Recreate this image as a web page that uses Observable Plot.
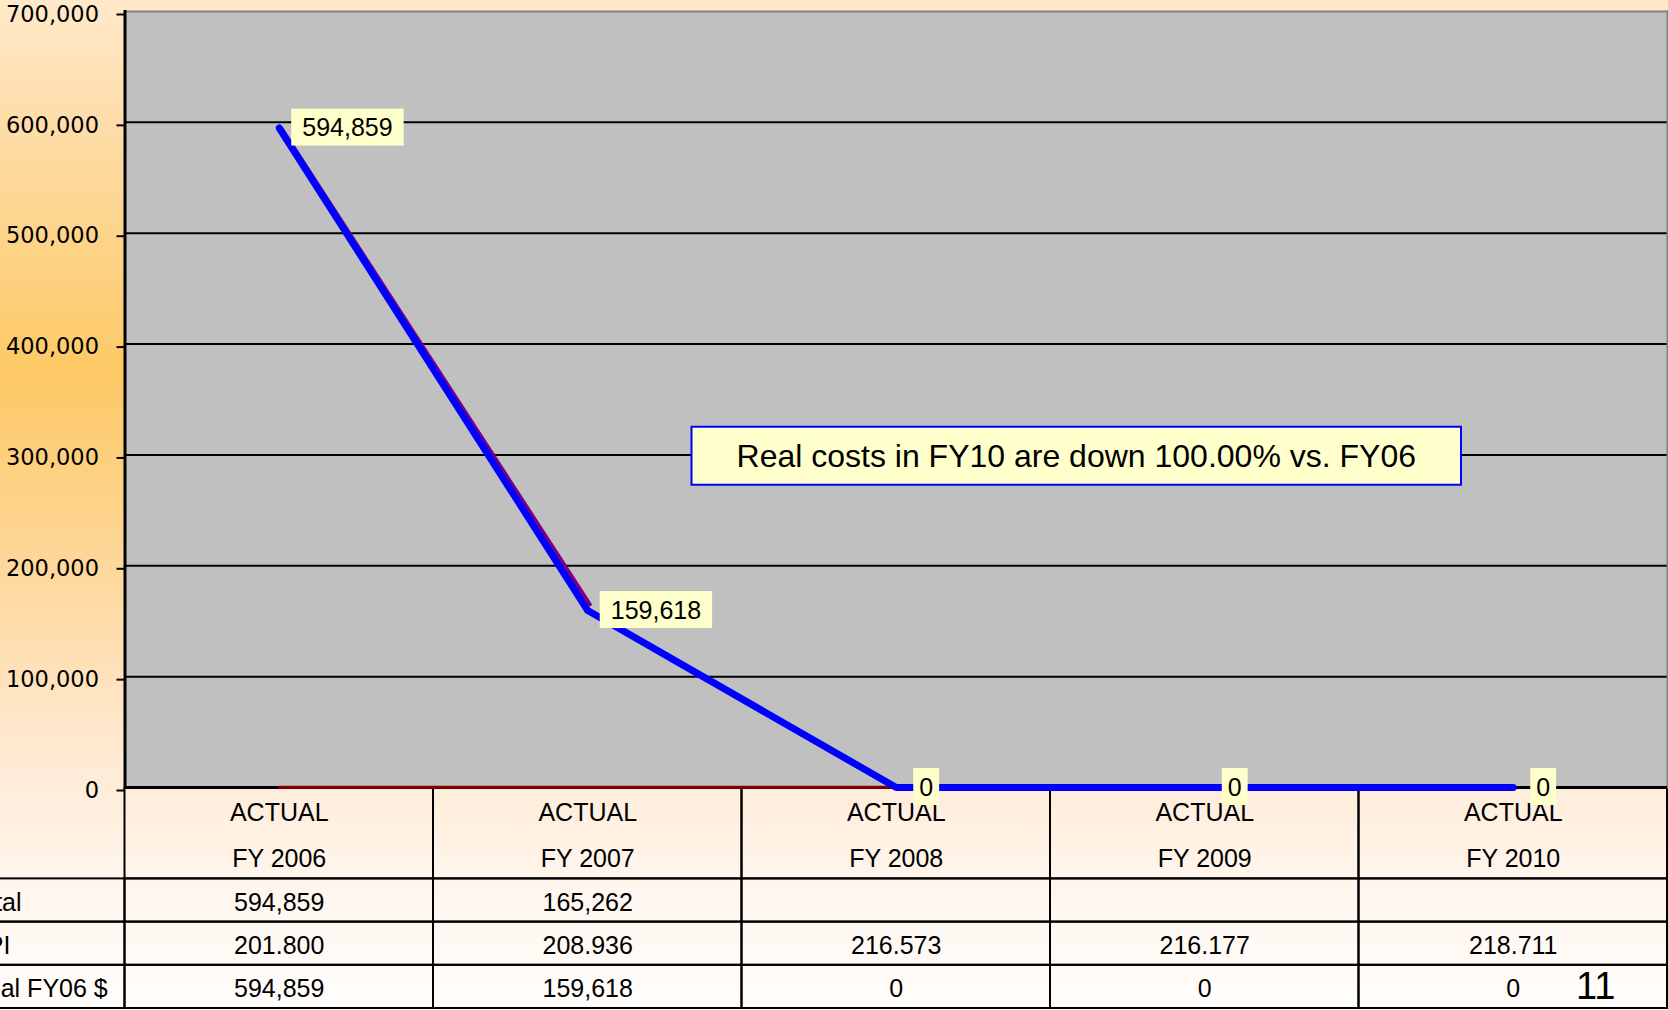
<!DOCTYPE html>
<html>
<head>
<meta charset="utf-8">
<script src="https://cdn.jsdelivr.net/npm/d3@7"></script>
<script src="https://cdn.jsdelivr.net/npm/@observablehq/plot@0.6"></script>
<style>
  html, body { margin: 0; padding: 0; }
  #page {
    position: relative; width: 1668px; height: 1010px; overflow: hidden;
    background: linear-gradient(to bottom, #FFE9C9 0%, #FEDDAA 12%, #FDC965 37%, #FED9A0 58%, #FFEBD6 76%, #FFF6EE 88%, #FFFDFB 100%);
    font-family: "Liberation Sans", Arial, sans-serif;
  }
  #table, #chart { position: absolute; left: 0; }
  #chart { top: 0; }
  #table { top: 787px; }
  #page-num { position: absolute; left: 1576px; top: 967px; font-size: 38px; line-height: 1; color: #000; }
</style>
</head>
<body>
<div id="page">
  <div id="table"></div>
  <div id="chart"></div>
  <div id="page-num">11</div>
</div>
<script>
// ---- data ----
const categories = ["FY 2006", "FY 2007", "FY 2008", "FY 2009", "FY 2010"];
const headerLine1 = ["ACTUAL", "ACTUAL", "ACTUAL", "ACTUAL", "ACTUAL"];
const nominalTotal = [594859, 165262, null, null, null];
const cpi = [201.800, 208.936, 216.573, 216.177, 218.711];
const realFY06 = [594859, 159618, 0, 0, 0];
const rowLabels = ["Total", "CPI", "Real FY06 $"];
const yTicks = [0, 100000, 200000, 300000, 400000, 500000, 600000, 700000];
const gridTicks = [100000, 200000, 300000, 400000, 500000, 600000];
const annotation = "Real costs in FY10 are down 100.00% vs. FY06";

// ---- layout ----
const W = 1668, H = 1010;
const plotLeft = 124.5, plotRight = 1667, plotTop = 11, plotBottom = 787;
const colW = (plotRight - plotLeft) / categories.length;
const font = "'Liberation Sans', Arial, sans-serif";
const fmt = d3.format(",");
const fmt3 = d3.format(".3f");

const series = vals => categories.map((c, i) => ({cat: c, value: vals[i]}));

// ---- table ----
const tableH = 223, tMarginTop = 5, tMarginBottom = 2;
const rowsY = ["h1", "h2", ...rowLabels];
const bw = (tableH - tMarginTop - tMarginBottom) / rowsY.length;
const rowValues = {
  "Total": nominalTotal.map(v => v == null ? "" : fmt(v)),
  "CPI": cpi.map(fmt3),
  "Real FY06 $": realFY06.map(fmt)
};
const headCells = [];
const textCells = [];
categories.forEach((c, i) => {
  headCells.push({col: c, row: "h1", text: headerLine1[i]});
  textCells.push({col: c, row: "h2", text: c});
  rowLabels.forEach(r => textCells.push({col: c, row: r, text: rowValues[r][i]}));
});
const bodyCells = [];
rowLabels.forEach(r => ["__label", ...categories].forEach(c => bodyCells.push({col: c, row: r})));

const table = Plot.plot({
  width: W, height: tableH,
  marginTop: tMarginTop, marginBottom: tMarginBottom, marginLeft: 0, marginRight: 0,
  style: {background: "transparent", fontFamily: font, color: "#000"},
  x: {type: "band", domain: ["__label", ...categories], range: [plotLeft - colW, plotRight], padding: 0, round: false, axis: null},
  y: {type: "band", domain: rowsY, padding: 0, round: false, axis: null},
  marks: [
    Plot.cell(categories, {x: d => d, y: () => "h2", fill: "none", stroke: "#000", strokeWidth: 2, inset: 0, insetTop: -(bw + tMarginTop)}),
    Plot.cell(bodyCells, {x: "col", y: "row", fill: "none", stroke: "#000", strokeWidth: 2, inset: 0}),
    Plot.text(headCells, {x: "col", y: "row", text: "text", fontSize: 25, fill: "#000", dy: -1}),
    Plot.text(textCells, {x: "col", y: "row", text: "text", fontSize: 25, fill: "#000", dy: 2}),
    Plot.text(rowLabels, {x: () => "__label", y: d => d, text: d => d, textAnchor: "start", fontSize: 25, fill: "#000", dy: 2, dx: -2})
  ]
});
document.getElementById("table").appendChild(table);

// ---- chart ----
const chart = Plot.plot({
  width: W, height: H,
  marginLeft: plotLeft, marginRight: W - plotRight, marginTop: plotTop, marginBottom: H - plotBottom,
  style: {background: "transparent", fontFamily: font, color: "#000", overflow: "visible"},
  x: {type: "point", domain: categories, padding: 0.5, round: false, axis: null},
  y: {domain: [0, 700000], axis: null, label: null},
  marks: [
    Plot.frame({fill: "#C0C0C0", stroke: "none"}),
    Plot.gridY(gridTicks, {stroke: "#000", strokeOpacity: 1, strokeWidth: 2}),
    Plot.frame({anchor: "top", stroke: "#808080", strokeWidth: 2}),
    Plot.frame({anchor: "right", stroke: "#808080", strokeWidth: 2}),
    Plot.frame({anchor: "left", stroke: "#000", strokeWidth: 3}),
    Plot.ruleY([0], {stroke: "#000", strokeWidth: 3}),
    Plot.axisY(yTicks, {tickFormat: fmt, fontSize: 22.5, fontFamily: "'DejaVu Sans', sans-serif", tickSize: 8, tickPadding: 18, strokeWidth: 2, stroke: "#000", fill: "#000", label: null, dy: 3}),
    Plot.line(series(cpi), {x: "cat", y: "value", stroke: "#800000", strokeWidth: 3}),
    Plot.line(series(nominalTotal), {x: "cat", y: "value", stroke: "#800080", strokeWidth: 4, dx: 2}),
    Plot.line(series(realFY06), {x: "cat", y: "value", stroke: "#0000FF", strokeWidth: 7, strokeLinecap: "round", strokeLinejoin: "round"}),
    Plot.text(series(realFY06), {x: "cat", y: "value", text: d => fmt(d.value), textAnchor: "start", dx: 23, fontSize: 25, fill: "#000", ariaDescription: "value-labels"}),
    Plot.text([annotation], {frameAnchor: "middle", dx: 180, dy: 57, text: d => d, fontSize: 32, fill: "#000", ariaDescription: "annotation"})
  ]
});
document.getElementById("chart").appendChild(chart);

// ---- label boxes ----
function addBoxes(svg, selector, padX, padY, stroke, sw) {
  svg.querySelectorAll(selector).forEach(t => {
    const b = t.getBBox();
    const px = typeof padX === "function" ? padX(b) : padX;
    const r = document.createElementNS("http://www.w3.org/2000/svg", "rect");
    r.setAttribute("x", b.x - px);
    r.setAttribute("y", b.y - padY);
    r.setAttribute("width", b.width + 2 * px);
    r.setAttribute("height", b.height + 2 * padY);
    r.setAttribute("fill", "#FFFFCC");
    if (stroke) { r.setAttribute("stroke", stroke); r.setAttribute("stroke-width", sw); }
    const tr = t.getAttribute("transform");
    if (tr) r.setAttribute("transform", tr);
    t.parentNode.insertBefore(r, t);
  });
}
let labelSel = 'g[aria-description="value-labels"] text';
let annSel = 'g[aria-description="annotation"] text';
if (!chart.querySelector(labelSel)) {
  const gs = chart.querySelectorAll('g[aria-label="text"]');
  gs[0] && gs[0].setAttribute("data-k", "labels");
  gs[1] && gs[1].setAttribute("data-k", "ann");
  labelSel = 'g[data-k="labels"] text';
  annSel = 'g[data-k="ann"] text';
}
addBoxes(chart, labelSel, b => Math.min(11, b.width * 0.43), 4.5, null, 0);
addBoxes(chart, annSel, 45, 11, "#0000FF", 2);
</script>
</body>
</html>
